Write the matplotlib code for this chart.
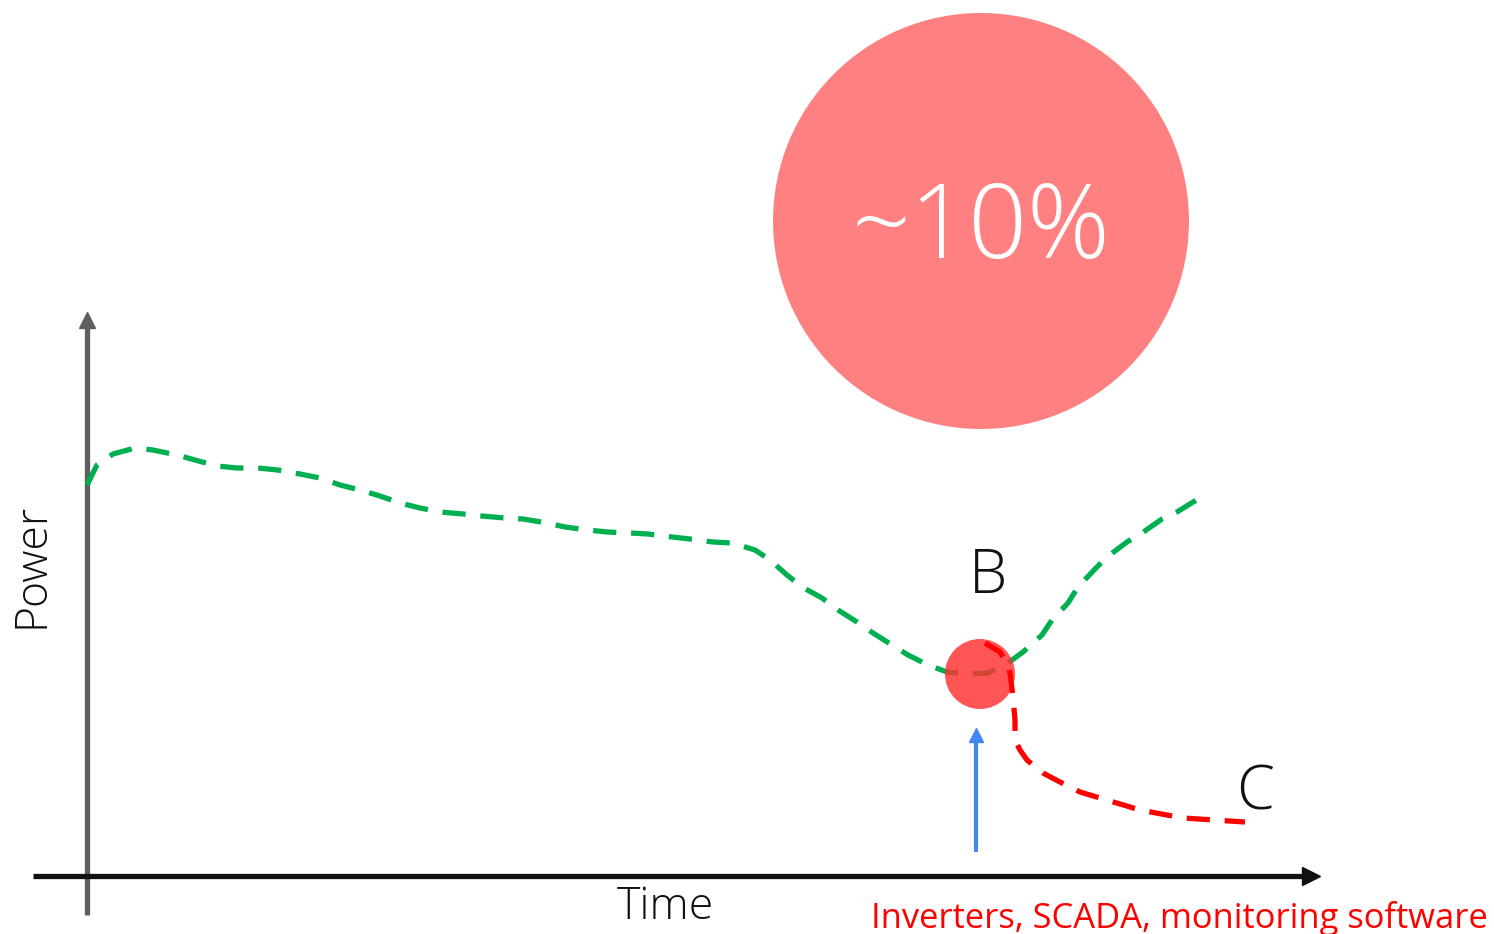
import matplotlib
matplotlib.use("Agg")
import matplotlib.pyplot as plt
from matplotlib.patches import Circle

plt.rcParams['font.family'] = ['Open Sans', 'DejaVu Sans']

# green curve: normal production (time, power), units from the origin
green_t = [0, 10, 26, 48, 66, 90, 108, 130, 150, 171, 191, 213, 233, 253, 273, 293, 313,
           333, 353, 376, 395, 418, 436, 460, 478, 501, 520, 543, 561, 585, 603, 626, 645,
           668, 683, 700, 715, 735, 751, 770, 786, 805, 821, 841, 860, 883, 901, 921, 936,
           955, 965, 981, 991, 1008, 1020, 1040, 1055, 1075, 1090, 1111]
green_p = [391, 411, 422, 428, 426, 421, 416, 410, 408, 408, 406, 402, 398, 391, 386, 380, 373,
           368, 364, 362, 360, 358, 357, 353, 349, 346, 344, 343, 342, 339, 337, 334, 333,
           326, 316, 301, 289, 278, 266, 254, 243, 231, 221, 211, 204, 202, 203, 213, 224,
           241, 256, 273, 289, 307, 319, 334, 343, 357, 364, 377]

# red curve: failure path after B
red_t = [898, 913, 921, 923, 926, 928, 928, 933, 940, 956, 973, 993, 1013, 1053, 1096, 1158]
red_p = [233, 224, 211, 203, 179, 156, 136, 126, 116, 103, 94, 84, 78, 66, 58, 54]

point_b = (893, 202)
circle_center = (894, 655)
circle_r = 208
alert_t = [889, 889]
alert_p = [24, 138]

fig = plt.figure(figsize=(14.94, 9.34), dpi=100)
ax = fig.add_axes([0, 0, 1, 1])
ax.set_xlim(-87, 1494 - 87)
ax.set_ylim(876 - 934, 876)
ax.axis('off')

# axes arrows
ax.plot([0, 0], [-39, 548], color='#5f5f5f', lw=3.8, solid_capstyle='butt', zorder=2)
ax.plot([0], [556], marker='^', ms=11, color='#5f5f5f', zorder=2)
ax.plot([-54, 1218], [0, 0], color='#111111', lw=3.8, solid_capstyle='butt', zorder=3)
ax.plot([1224], [0], marker='>', ms=13, color='#111111', zorder=3)

ax.plot(green_t, green_p, color='#00b050', lw=3.8, dashes=(4.4, 2.8), zorder=4)
ax.plot(red_t, red_p, color='#ff0000', lw=3.8, dashes=(4.4, 2.8), zorder=5)

ax.add_patch(Circle(point_b, 35, color='#ff3030', alpha=0.82, lw=0, zorder=4.5))

ax.plot(alert_t, alert_p, color='#4285f4', lw=3, solid_capstyle='butt', zorder=3)
ax.plot([alert_t[1]], [alert_p[1] + 3], marker='^', ms=10, color='#4285f4', zorder=3)

ax.add_patch(Circle(circle_center, circle_r, color='#ff8080', lw=0, zorder=1))
ax.text(circle_center[0], circle_center[1] - 10, '~10%', color='white', fontsize=74,
        fontweight='light', ha='center', va='center', zorder=6)

ax.text(-55, 311, 'Power', rotation=90, fontsize=32, fontweight='light',
        ha='center', va='center', color='#111111')
ax.text(578, -32, 'Time', fontsize=32, fontweight='light', ha='center', va='center', color='#111111')
ax.text(901, 299, 'B', fontsize=44, fontweight='light', ha='center', va='center', color='#111111')
ax.text(1168, 82, 'C', fontsize=44, fontweight='light', ha='center', va='center', color='#111111')
ax.text(1401, -42, 'Inverters, SCADA, monitoring software', fontsize=24.8,
        ha='right', va='center', color='#ff0000')

fig.savefig('out.png', dpi=100)
